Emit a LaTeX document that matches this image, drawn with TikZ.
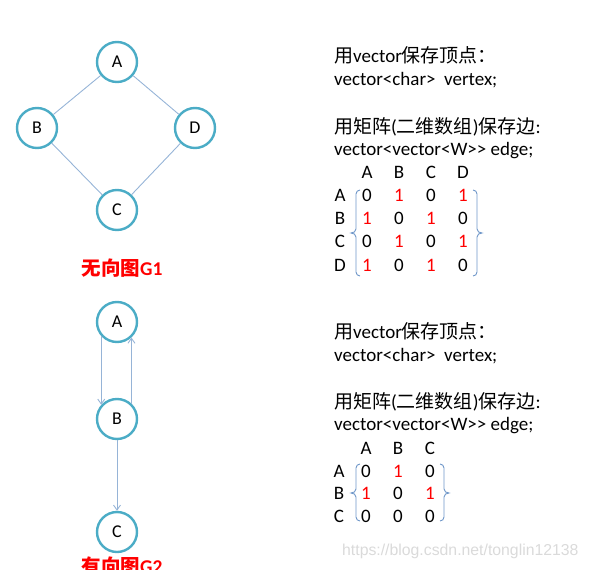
\documentclass[tikz,border=0pt]{standalone}
\usepackage{fontspec}
\setmainfont{Carlito}
\newfontfamily\cjk{Noto Sans CJK SC}
\newfontfamily\wmfont{Liberation Sans}
\usetikzlibrary{arrows.meta}
\definecolor{ringcol}{RGB}{75,172,198}
\definecolor{edgecol}{RGB}{150,180,215}
\definecolor{bracecol}{RGB}{110,150,200}
\definecolor{redtxt}{RGB}{255,0,0}
\definecolor{wmcol}{RGB}{218,218,218}
\tikzset{
  vert/.style={circle,draw=ringcol,line width=2.4pt,minimum size=40pt,inner sep=0pt,font=\fontsize{18}{20}\selectfont},
  uedge/.style={draw=edgecol,line width=0.9pt},
  dedge/.style={draw=edgecol,line width=0.9pt,-{Straight Barb[length=5pt,width=7pt]}},
  txt/.style={anchor=base west,inner sep=0pt,font=\fontsize{19}{22}\selectfont},
  zero/.style={anchor=base,inner sep=0pt,font=\fontsize{19}{22}\selectfont},
  one/.style={zero,text=redtxt},
  gcaption/.style={anchor=base,inner sep=0pt,text=redtxt,font=\fontsize{19.5}{22}\selectfont\bfseries},
  brace/.style={draw=bracecol,line width=0.9pt},
  wmark/.style={anchor=base west,inner sep=0pt,text=wmcol,font=\wmfont\fontsize{15.8}{18}\selectfont},
}
\begin{document}
\begin{tikzpicture}[x=1pt,y=-1pt]
\useasboundingbox (0,0) rectangle (589,570);
% ---------- G1 ----------
\node[vert] (A1) at (117,62) {A};
\node[vert] (B1) at (37,128) {B};
\node[vert] (D1) at (195,128) {D};
\node[vert] (C1) at (117,210) {C};
\draw[uedge] (A1) -- (B1);
\draw[uedge] (A1) -- (D1);
\draw[uedge] (B1) -- (C1);
\draw[uedge] (D1) -- (C1);
\node[gcaption] (cap1) at (122,275) {{\cjk\bfseries 无向图}G1};
% ---------- G2 ----------
\node[vert] (A2) at (117,322) {A};
\node[vert] (B2) at (117,419) {B};
\node[vert] (C2) at (117,532) {C};
\draw[dedge] (A2.222) -- (B2.138);
\draw[dedge] (B2.47) -- (A2.313);
\draw[dedge] (B2) -- (C2);
\node[gcaption] (cap2) at (122,573) {{\cjk\bfseries 有向图}G2};
% ---------- text G1 ----------
\node[txt] (t11) at (334,62) {{\cjk 用}vector{\cjk 保存顶点：}};
\node[txt] (t12) at (334,85) {vector<char>\ \ vertex;};
\node[txt] (t13) at (334,133) {{\cjk 用矩阵}({\cjk 二维数组}){\cjk 保存边}:};
\node[txt] (t14) at (334,155) {vector<vector<W>{}> edge;};
\foreach \l/\x in {A/367,B/399,C/431,D/463}{
  \node[zero] (h1\l) at (\x,178) {\l};
}
\foreach \l/\y in {A/201,B/224,C/247,D/271}{
  \node[zero] (r1\l) at (340,\y) {\l};
}
\foreach \r/\y/\a/\b/\c/\d in {1/201/zero/one/zero/one, 2/224/one/zero/one/zero, 3/247/zero/one/zero/one, 4/271/one/zero/one/zero}{
  \node[\a] (m1\r a) at (367,\y) {\ifnum\pdfstrcmp{\a}{one}=0 1\else 0\fi};
  \node[\b] (m1\r b) at (399,\y) {\ifnum\pdfstrcmp{\b}{one}=0 1\else 0\fi};
  \node[\c] (m1\r c) at (431,\y) {\ifnum\pdfstrcmp{\c}{one}=0 1\else 0\fi};
  \node[\d] (m1\r d) at (463,\y) {\ifnum\pdfstrcmp{\d}{one}=0 1\else 0\fi};
}
\draw[brace] (360,190) to[out=180,in=90] (356,194) -- (356,229) to[out=-90,in=0] (351,233) to[out=0,in=90] (356,237) -- (356,272) to[out=-90,in=180] (360,276);
\draw[brace] (473,190) to[out=0,in=90] (477,194) -- (477,229) to[out=-90,in=180] (482,233) to[out=180,in=90] (477,237) -- (477,272) to[out=-90,in=0] (473,276);
% ---------- text G2 ----------
\node[txt] (t21) at (334,338) {{\cjk 用}vector{\cjk 保存顶点：}};
\node[txt] (t22) at (334,361) {vector<char>\ \ vertex;};
\node[txt] (t23) at (334,408) {{\cjk 用矩阵}({\cjk 二维数组}){\cjk 保存边}:};
\node[txt] (t24) at (334,430) {vector<vector<W>{}> edge;};
\foreach \l/\x in {A/366,B/398,C/430}{
  \node[zero] (h2\l) at (\x,454) {\l};
}
\foreach \l/\y in {A/477,B/499,C/522}{
  \node[zero] (r2\l) at (339,\y) {\l};
}
\foreach \r/\y/\a/\b/\c in {1/477/zero/one/zero, 2/499/one/zero/one, 3/522/zero/zero/zero}{
  \node[\a] (m2\r a) at (366,\y) {\ifnum\pdfstrcmp{\a}{one}=0 1\else 0\fi};
  \node[\b] (m2\r b) at (398,\y) {\ifnum\pdfstrcmp{\b}{one}=0 1\else 0\fi};
  \node[\c] (m2\r c) at (430,\y) {\ifnum\pdfstrcmp{\c}{one}=0 1\else 0\fi};
}
\draw[brace] (360,464) to[out=180,in=90] (356,468) -- (356,489) to[out=-90,in=0] (351,493) to[out=0,in=90] (356,497) -- (356,517) to[out=-90,in=180] (360,521);
\draw[brace] (440,464) to[out=0,in=90] (444,468) -- (444,489) to[out=-90,in=180] (449,493) to[out=180,in=90] (444,497) -- (444,517) to[out=-90,in=0] (440,521);
\node[wmark] (wm) at (342,555) {https://blog.csdn.net/tonglin12138};
\end{tikzpicture}
\end{document}
